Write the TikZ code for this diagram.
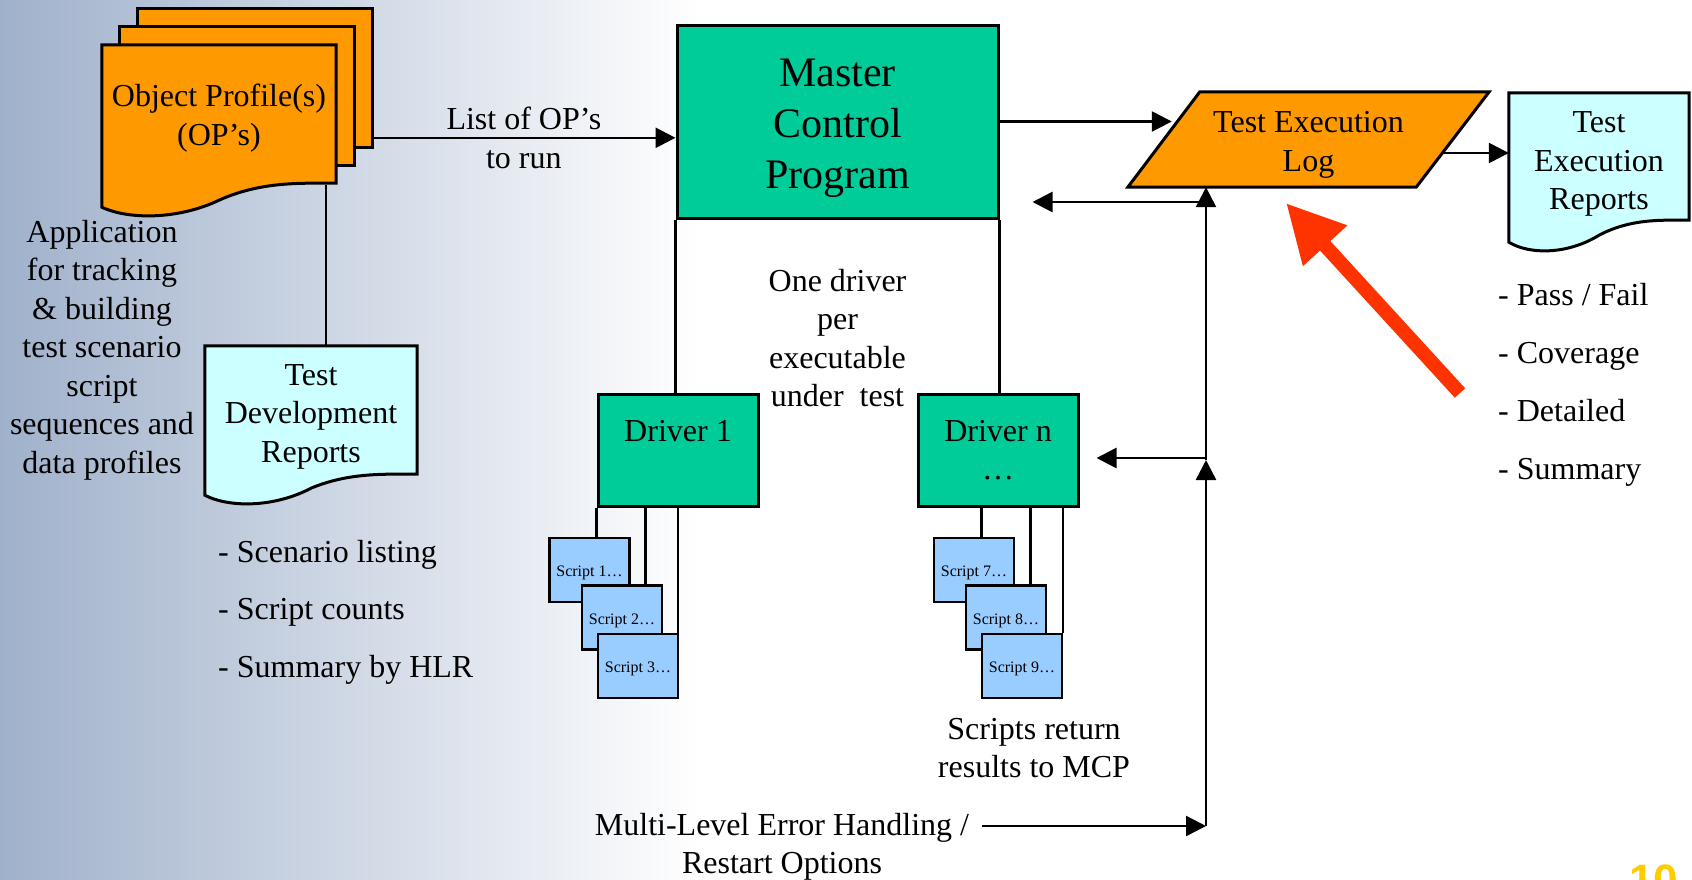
\documentclass[tikz,border=0pt]{standalone}
\usepackage{fontspec}
\setmainfont{Liberation Serif}
\newfontfamily\numfont{Liberation Sans}
\usetikzlibrary{calc,arrows.meta}

\definecolor{bgleft}{RGB}{160,177,203}
\definecolor{bgmid}{RGB}{210,219,232}
\definecolor{opfill}{RGB}{255,153,0}
\definecolor{mcpfill}{RGB}{0,204,153}
\definecolor{repfill}{RGB}{204,255,255}
\definecolor{scriptfill}{RGB}{153,204,255}
\definecolor{redarrow}{RGB}{255,51,0}
\definecolor{pagenum}{RGB}{255,204,0}

\pgfdeclarelayer{bg}
\pgfdeclarelayer{docs}
\pgfsetlayers{bg,docs,main}

\tikzset{
  txt/.style={font=\fontsize{32}{38.5}\selectfont, inner sep=0pt, align=center},
  greenbox/.style={txt, draw, line width=3pt, fill=mcpfill, minimum width=160pt, minimum height=112pt},
  scriptbox/.style={draw, line width=2.5pt, fill=scriptfill, minimum width=80pt, minimum height=64pt,
    inner sep=0pt, text height=15pt, text depth=1.4pt, font=\fontsize{16}{19}\selectfont},
  doc/.style={draw, line width=3pt},
  conn/.style={line width=2.5pt},
  arr/.style={conn, -{Triangle[length=20pt,width=20pt]}},
  redarr/.style={line width=14pt, redarrow, -{Triangle[length=58pt,width=56pt]}}
}

% document page with a wavy bottom, #3 = drop of the left corner
\newcommand{\docwave}[3]{%
  \draw[doc, fill=#2] (#1.south east) -- (#1.north east) -- (#1.north west)
    -- ($(#1.south west)+(0,#3)$)
    .. controls ($(#1.south west)!0.12!(#1.south east)+(0,#3+13)$)
    and ($(#1.south west)!0.33!(#1.south east)+(0,#3+12)$)
    .. ($(#1.south west)!0.5!(#1.south east)+(0,#3-7)$)
    .. controls ($(#1.south west)!0.68!(#1.south east)+(0,-2)$)
    and ($(#1.south west)!0.85!(#1.south east)$)
    .. (#1.south east) -- cycle;}
% pushes the first line of a node down
\newcommand{\toppad}[1]{\rule{0pt}{#1}}

\begin{document}
\begin{tikzpicture}[x=1pt, y=-1pt]
\useasboundingbox (0,0) rectangle (1692,879);
\begin{pgfonlayer}{bg}
\fill[white] (0,0) rectangle (1692,879);
\shade[left color=bgleft, middle color=bgmid, right color=white] (0,0) rectangle (700,879);
\end{pgfonlayer}

% documents
\node[txt, minimum width=234pt, minimum height=138pt] (op) at (219,114) {\toppad{31pt}Object Profile(s)\\(OP’s)};
\node[txt, minimum width=212pt, minimum height=128pt] (tdr) at (311,410) {\toppad{34pt}Test\\Development\\Reports};
\node[txt, minimum width=180pt, minimum height=127pt] (ter) at (1599,156.5) {\toppad{36pt}Test\\Execution\\Reports};
\node[txt, minimum width=289pt, minimum height=95pt] (tel) at (1308.5,139.5) {\toppad{32pt}Test Execution\\Log};

\begin{pgfonlayer}{docs}
\foreach \o in {36,18}
  \draw[doc, fill=opfill] ($(op.north west)+(\o,-\o)$) rectangle ($(op.south east)+(\o,-\o)$);
\docwave{op}{opfill}{24}
\docwave{tdr}{repfill}{21}
\docwave{ter}{repfill}{22}
\draw[doc, fill=opfill] ($(tel.south west)+(-36,0)$) -- ($(tel.north west)+(36,0)$)
  -- ($(tel.north east)+(36,0)$) -- ($(tel.south east)+(-37,0)$) -- cycle;
\end{pgfonlayer}

% master control program and drivers
\node[greenbox, font=\fontsize{42}{51}\selectfont, minimum width=321pt, minimum height=193pt] (mcp) at (837.5,121.5) {\toppad{42pt}Master\\Control\\Program};
\node[greenbox] (drv1) at (678,450) {Driver 1\\\phantom{…}};
\node[greenbox] (drvn) at (998,450) {Driver n\\…};

\foreach \n/\x/\y in {1/589.5/570, 2/622/617.5, 3/638/666, 7/974/570, 8/1006/617.5, 9/1022/666}
  \node[scriptbox] (s\n) at (\x,\y) {Script \n…};

\foreach \d/\s/\f in {drv1/s1/0, drv1/s2/0.3, drv1/s3/0.5, drvn/s7/0.4, drvn/s8/0.7, drvn/s9/0.9} {
  \path ($(\d.south west)!\f!(\d.south east)$) coordinate (foot);
  \draw[conn] (foot) -- (foot |- \s.north);
}

\draw[conn] (mcp.south west) -- (mcp.south west |- drv1.north);
\draw[conn] (mcp.south east) -- (mcp.south east |- drvn.north);

% op list to the mcp
\coordinate (opout) at ($(op.north east)+(36,93)$);
\draw[arr] (opout) -- (opout -| mcp.west);
\node[txt, anchor=base] (oplist) at ($(opout)!0.5!(opout -| mcp.west)+(0,-8)$) {List of OP’s};
\node[txt, anchor=base] (oprun) at ($(opout)!0.5!(opout -| mcp.west)+(0,31)$) {to run};

\coordinate (opfoot) at ($(op.south east)+(-10,2)$);
\draw[conn] (opfoot) -- (opfoot |- tdr.north);

% log and reports
\draw[arr] (mcp.east) -- ($(mcp.east -| tel.west)+(8,0)$);
\coordinate (telout) at ($(tel.east)+(-10,13.5)$);
\draw[arr] (telout) -- (telout -| ter.west);

% error handling loop
\coordinate (fbbot) at (1206,826);
\coordinate (fbmid) at (1206,460);
\coordinate (fbtop) at (1206,202);
\node[txt] (mleh) at (782,847) {Multi-Level Error Handling /\\Restart Options};
\draw[arr] ($(mleh.east |- fbbot)+(13,0)$) -- (fbbot);
\draw[arr] (fbbot) -- (fbmid);
\draw[arr] (fbmid) -- (fbmid |- tel.south);
\draw[arr] (fbtop) -- ($(mcp.east |- fbtop)+(33,0)$);
\draw[arr] ($(fbmid)+(0,-2)$) -- ($(drvn.east |- fbmid)+(17,-2)$);

% texts
\node[txt] (appl) at (102,350) {Application\\for tracking\\\&\ building\\test scenario\\script\\sequences and\\data profiles};
\node[txt] (perexe) at (837.5,338) {One driver\\per\\executable\\under\ \ test};
\node[txt] (sret) at (1034,748) {Scripts return\\results to MCP};
\foreach \t [count=\i] in {{Scenario listing}, {Script counts}, {Summary by HLR}}
  \node[txt, anchor=base west] (dev\i) at (218,504.5+57.5*\i) {- \t};
\foreach \t [count=\i] in {{Pass / Fail}, {Coverage}, {Detailed}, {Summary}}
  \node[txt, anchor=base west] (exe\i) at (1498,247+58*\i) {- \t};

% red pointer
\coordinate (rtail) at (1460,393);
\coordinate (rtip) at (1286,203);
\draw[redarr] (rtail) -- (rtip);

\node[font=\numfont\bfseries\fontsize{44}{50}\selectfont, text=pagenum, anchor=base west, inner sep=0pt] (pgno) at (1629,895) {10};
\end{tikzpicture}
\end{document}
